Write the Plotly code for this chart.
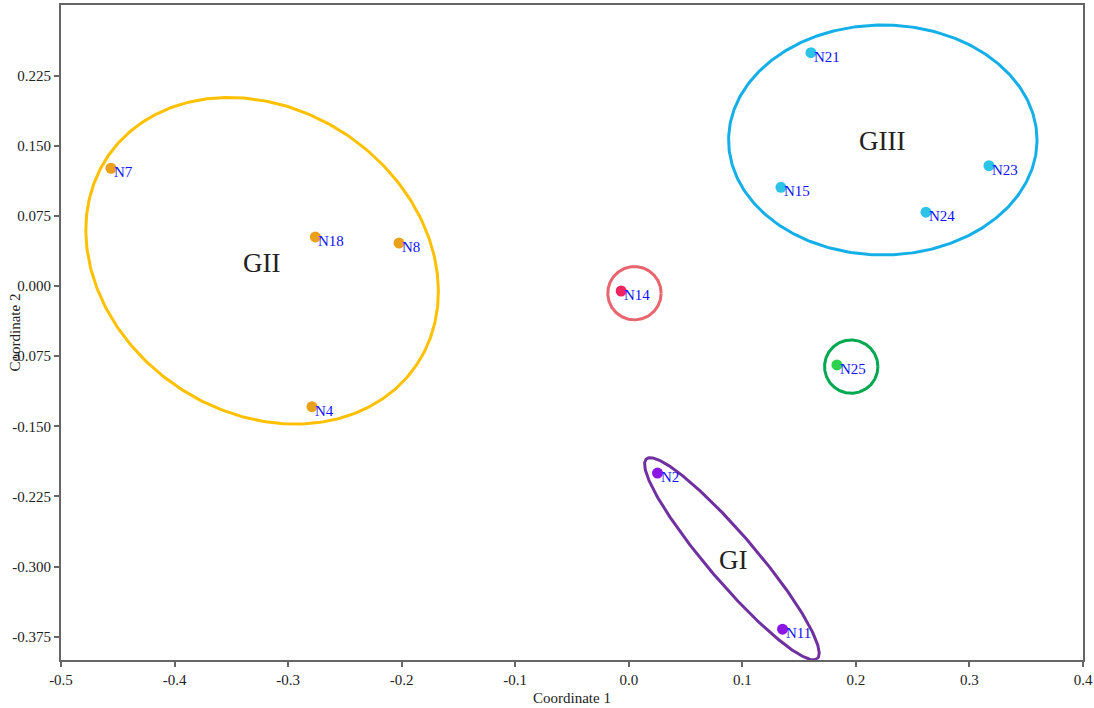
import numpy as np
import plotly.graph_objects as go

# ---- data ----
names = ["N2", "N11", "N4", "N7", "N8", "N18", "N14", "N25", "N15", "N21", "N23", "N24"]
coord1 = [0.0253, 0.1354, -0.279, -0.456, -0.2023, -0.276, -0.0067, 0.1833, 0.134, 0.1604, 0.3172, 0.2617]
coord2 = [-0.200, -0.367, -0.129, 0.126, 0.046, 0.0525, -0.0053, -0.0844, 0.1056, 0.2496, 0.1287, 0.079]
groups = ["GI", "GI", "GII", "GII", "GII", "GII", "N14", "N25", "GIII", "GIII", "GIII", "GIII"]

point_colors = {"GI": "#8A17E6", "GII": "#E9A11B", "GIII": "#2CC3E6", "N14": "#F0245F", "N25": "#2AD34B"}
ring_colors = {"GI": "#7030A0", "GII": "#FFC000", "GIII": "#14AEE8", "N14": "#E8656D", "N25": "#00A84F"}

# ellipses: centre, semi-axis vector 1, semi-axis vector 2 (data units)
ell_groups = ["GI", "GII", "GIII", "N14", "N25"]
ell_cx = [0.0908, -0.3229, 0.2237, 0.005, 0.1959]
ell_cy = [-0.2917, 0.027, 0.1562, -0.0077, -0.0862]
ell_u = [(0.0752, -0.1068), (0.1360, -0.1114), (0.1358, 0.0), (0.0235, 0.0), (0.0235, 0.0)]
ell_v = [(-0.01600, -0.01660), (-0.0748, -0.1345), (0.0, 0.123), (0.0, 0.0285), (0.0, 0.0285)]

group_labels = ["GII", "GIII", "GI"]
group_label_x = [-0.3238, 0.2232, 0.092]
group_label_y = [0.0247, 0.155, -0.293]

xticks = [-0.5, -0.4, -0.3, -0.2, -0.1, 0.0, 0.1, 0.2, 0.3, 0.4]
yticks = [-0.375, -0.300, -0.225, -0.150, -0.075, 0.000, 0.075, 0.150, 0.225]

FONT = "Liberation Serif, Times New Roman, serif"

fig = go.Figure()

t = np.linspace(0, 2 * np.pi, 361)
for g, cx, cy, u, v in zip(ell_groups, ell_cx, ell_cy, ell_u, ell_v):
    ex = cx + u[0] * np.cos(t) + v[0] * np.sin(t)
    ey = cy + u[1] * np.cos(t) + v[1] * np.sin(t)
    fig.add_trace(go.Scatter(x=ex, y=ey, mode="lines",
                             line=dict(color=ring_colors[g], width=3),
                             hoverinfo="skip", showlegend=False))

for g in ["GI", "GII", "GIII", "N14", "N25"]:
    idx = [i for i, gg in enumerate(groups) if gg == g]
    fig.add_trace(go.Scatter(x=[coord1[i] for i in idx], y=[coord2[i] for i in idx],
                             mode="markers", marker=dict(size=11, color=point_colors[g]),
                             text=[names[i] for i in idx], showlegend=False))

for n, xx, yy in zip(names, coord1, coord2):
    fig.add_annotation(x=xx, y=yy, text=n, showarrow=False, xanchor="left", yanchor="middle",
                       xshift=1, yshift=-4, font=dict(family=FONT, size=15, color="#1010FF"))

for lab, xx, yy in zip(group_labels, group_label_x, group_label_y):
    fig.add_annotation(x=xx, y=yy, text=lab, showarrow=False, xanchor="center", yanchor="middle",
                       font=dict(family=FONT, size=27, color="#222222"))

fig.add_annotation(x=0.5, y=0, xref="paper", yref="paper", text="Coordinate 1", showarrow=False,
                   xanchor="center", yanchor="middle", yshift=-38,
                   font=dict(family=FONT, size=15, color="#222222"))
fig.add_annotation(x=0, y=0.5, xref="paper", yref="paper", text="Coordinate 2", showarrow=False,
                   xanchor="center", yanchor="middle", xshift=-47, textangle=-90,
                   font=dict(family=FONT, size=15, color="#222222"))

axis_common = dict(showgrid=False, zeroline=False, showline=True, mirror=True,
                   linecolor="#666666", linewidth=2, ticks="outside", ticklen=5,
                   tickcolor="#666666", tickwidth=1.5, automargin=False,
                   ticklabeloverflow="allow",
                   tickfont=dict(family=FONT, size=15, color="#222222"))

fig.update_xaxes(range=[-0.5, 0.4], tickvals=xticks,
                 ticktext=[f"{v:.1f}" for v in xticks], **axis_common)
fig.update_yaxes(range=[-0.4, 0.3006], tickvals=yticks,
                 ticktext=[f"{v:.3f}" for v in yticks], **axis_common)

fig.update_layout(width=1094, height=708, margin=dict(l=61, r=11, t=5, b=48),
                  plot_bgcolor="white", paper_bgcolor="white",
                  font=dict(family=FONT, color="#222222"))

fig.write_html("out.html")
